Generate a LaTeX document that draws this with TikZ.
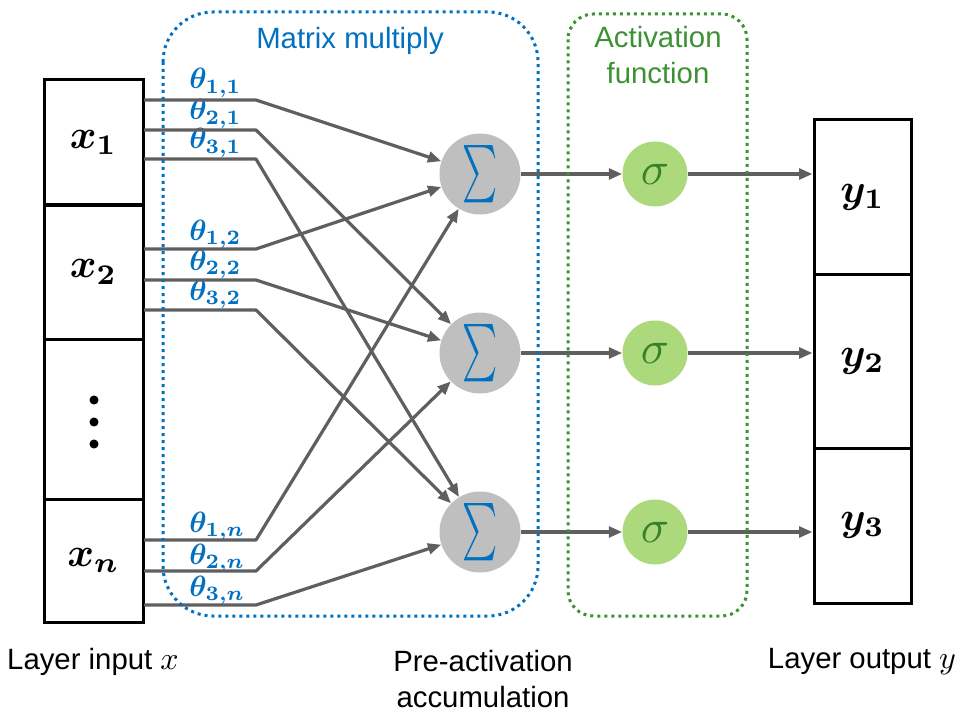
\documentclass[tikz,border=0pt]{standalone}
\usepackage{amsmath,bm}
\usepackage{fontspec}
\newfontfamily\arial{Liberation Sans}
\usetikzlibrary{arrows.meta}
\definecolor{mblue}{RGB}{0,112,192}
\definecolor{mgreen}{RGB}{60,145,50}
\definecolor{wirec}{RGB}{95,95,95}
\definecolor{sumfill}{RGB}{191,191,191}
\definecolor{sigfill}{RGB}{173,217,125}
\definecolor{sigtext}{RGB}{56,128,42}
\newcommand{\cellm}[1]{{\fontsize{10}{12}\selectfont\scalebox{3.05}{$\bm{#1}$}}}
\newcommand{\thm}[1]{{\fontsize{10}{12}\selectfont\scalebox{2.2}{$\bm{#1}$}}}
\newcommand{\capm}[1]{{\fontsize{10}{12}\selectfont\scalebox{2.4}{$#1$}}}
\begin{document}
\begin{tikzpicture}[x=0.75pt,y=-0.75pt,
  cell/.style={draw, line width=2.25pt, inner sep=0pt},
  xcell/.style={cell, minimum width=74.25pt},
  ycell/.style={cell, minimum width=72.75pt},
  wire/.style={draw=wirec, line width=2.4pt, line join=round, -{Triangle[length=10pt,width=8pt]}},
  sumnode/.style={circle, fill=sumfill, minimum size=60.75pt, inner sep=0pt, text=mblue},
  signode/.style={circle, fill=sigfill, minimum size=48.75pt, inner sep=0pt, text=sigtext},
  theta/.style={anchor=base west, inner sep=0pt, text=mblue},
  caption/.style={font=\arial\fontsize{22}{27}\selectfont, align=center},
  dotbox/.style={line width=2.25pt, dash pattern=on 2.25pt off 3pt}
]
\useasboundingbox (0,0) rectangle (960,713);

% input cells
\node[xcell, minimum height=93.75pt] (x1) at (93.5,142.5) {\cellm{x_1}};
\node[xcell, minimum height=100.5pt] (x2) at (93.5,272) {\cellm{x_2}};
\node[xcell, minimum height=120pt] (xd) at (93.5,419) {};
\node[xcell, minimum height=92.25pt] (xn) at (93.5,560.5) {\cellm{x_n}};
\fill (94,400) circle[radius=3.4pt];
\fill (94,422) circle[radius=3.4pt];
\fill (94,444) circle[radius=3.4pt];

% output cells
\node[ycell, minimum height=115.5pt] (y1) at (862.5,197) {\cellm{y_1}};
\node[ycell, minimum height=130.5pt] (y2) at (862.5,361) {\cellm{y_2}};
\node[ycell, minimum height=116.25pt] (y3) at (862.5,525.5) {\cellm{y_3}};

% sum nodes
\foreach \i/\yy in {1/174,2/353,3/532}{
  \node[sumnode] (sum\i) at (480,\yy) {{\fontsize{10}{12}\selectfont\scalebox{2.5}[4.3]{$\sum$}}};
  \node[signode] (sig\i) at (655,\yy) {{\fontsize{10}{12}\selectfont\scalebox{3.5}{$\sigma$}}};
}

% wire start and bend coordinates
\foreach \n/\yy in {11/100,21/130,31/159,12/249,22/280,32/310,1n/540,2n/571,3n/605}{
  \coordinate (s\n) at (144,\yy);
  \coordinate (b\n) at (256,\yy);
}

% theta labels
\node[theta] (t11) at (189,89) {\thm{\theta_{1,1}}};
\node[theta] (t21) at (189,120) {\thm{\theta_{2,1}}};
\node[theta] (t31) at (189,149) {\thm{\theta_{3,1}}};
\node[theta] (t12) at (189,240) {\thm{\theta_{1,2}}};
\node[theta] (t22) at (189,270) {\thm{\theta_{2,2}}};
\node[theta] (t32) at (189,300) {\thm{\theta_{3,2}}};
\node[theta] (t1n) at (189,532) {\thm{\theta_{1,n}}};
\node[theta] (t2n) at (189,564) {\thm{\theta_{2,n}}};
\node[theta] (t3n) at (189,596) {\thm{\theta_{3,n}}};

% wires
\draw[wire] (s11) -- (b11) -- (sum1);
\draw[wire] (s21) -- (b21) -- (sum2);
\draw[wire] (s31) -- (b31) -- (sum3);
\draw[wire] (s12) -- (b12) -- (sum1);
\draw[wire] (s22) -- (b22) -- (sum2);
\draw[wire] (s32) -- (b32) -- (sum3);
\draw[wire] (s1n) -- (b1n) -- (sum1);
\draw[wire] (s2n) -- (b2n) -- (sum2);
\draw[wire] (s3n) -- (b3n) -- (sum3);
\foreach \i in {1,2,3}{
  \draw[wire] (sum\i) -- (sig\i);
  \draw[wire] (sig\i) -- (sig\i -| y\i.west);
}

% dotted group boxes
\draw[dotbox, mblue, rounded corners=37.5pt] (163,12) rectangle (538,616);
\draw[dotbox, mgreen, rounded corners=19pt] (568,14) rectangle (747,616);

% titles
\node[caption, text=mblue] (mm) at (350,41) {Matrix multiply};
\node[caption, text=mgreen] (af) at (658,55) {Activation\\function};

% bottom captions
\node[caption] (lin) at (93,662) {Layer input \capm{x}};
\node[caption] (pre) at (483,679) {Pre-activation\\accumulation};
\node[caption] (lout) at (862,662) {Layer output \capm{y}};
\end{tikzpicture}
\end{document}
